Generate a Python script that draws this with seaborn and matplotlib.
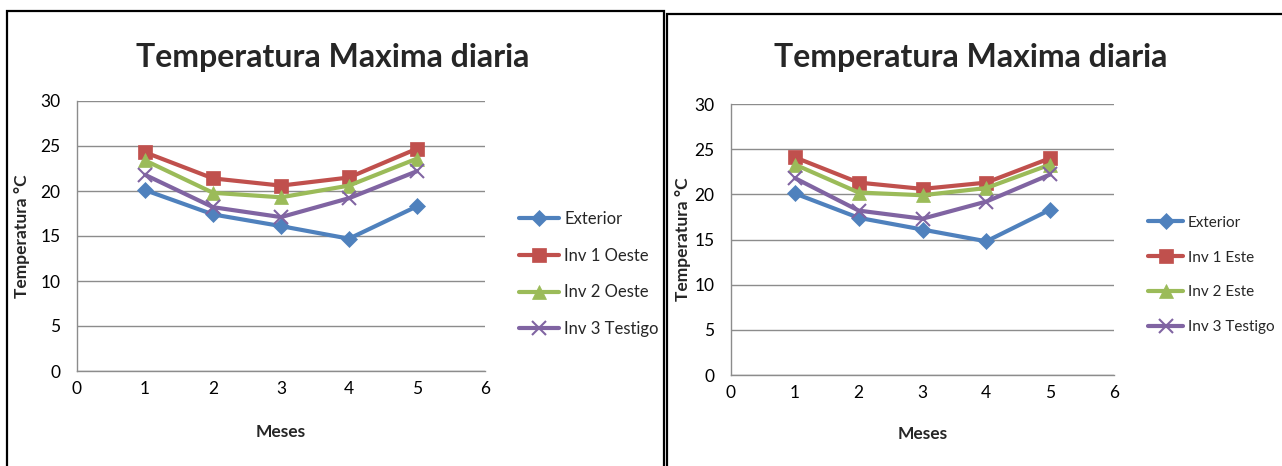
import matplotlib
matplotlib.use("Agg")
import matplotlib.pyplot as plt
import seaborn as sns
import pandas as pd
from matplotlib.patches import Rectangle
from matplotlib.lines import Line2D

meses = [1, 2, 3, 4, 5]

# Left chart (Oeste)
left_labels = ["Exterior", "Inv 1 Oeste", "Inv 2 Oeste", "Inv 3 Testigo"]
left_exterior = [20.1, 17.4, 16.1, 14.7, 18.3]
left_inv1 = [24.3, 21.4, 20.6, 21.5, 24.7]
left_inv2 = [23.4, 19.8, 19.3, 20.6, 23.6]
left_inv3 = [21.8, 18.2, 17.1, 19.2, 22.2]

# Right chart (Este)
right_labels = ["Exterior", "Inv 1 Este", "Inv 2 Este", "Inv 3 Testigo"]
right_exterior = [20.1, 17.4, 16.1, 14.8, 18.3]
right_inv1 = [24.1, 21.3, 20.6, 21.3, 24.0]
right_inv2 = [23.3, 20.2, 19.9, 20.7, 23.3]
right_inv3 = [21.8, 18.2, 17.3, 19.2, 22.2]

title = "Temperatura Maxima diaria"
xlabel = "Meses"
ylabel = "Temperatura °C"
xticks = [0, 1, 2, 3, 4, 5, 6]
yticks = [0, 5, 10, 15, 20, 25, 30]

colors = ["#4F81BD", "#C0504D", "#9BBB59", "#8064A2"]
markers = ["D", "s", "^", "x"]
msizes = [8, 10, 10, 10]

sns.set_theme(style="white")
plt.rcParams["font.family"] = ["Lato", "DejaVu Sans"]

W, H = 1282, 466
fig = plt.figure(figsize=(W / 100, H / 100), dpi=100)
fig.patch.set_facecolor("white")

# chart frames
fig.patches.append(Rectangle((7 / W, -0.02), (664 - 7) / W, 1.02 - 11 / H,
                             transform=fig.transFigure, fill=False,
                             edgecolor="black", linewidth=1.6, zorder=0))
fig.patches.append(Rectangle((667 / W, -0.02), 1.0, 1.02 - 14 / H,
                             transform=fig.transFigure, fill=False,
                             edgecolor="black", linewidth=1.6, zorder=0))


def make_chart(rect, series, labels, title_xy, ylab_x, xlab_y, leg_xy,
               leg_fs, leg_hl):
    ax = fig.add_axes(rect)
    for vals, lab, c, m, ms in zip(series, labels, colors, markers, msizes):
        df = pd.DataFrame({"Meses": meses, "T": vals})
        sns.lineplot(data=df, x="Meses", y="T", ax=ax, color=c, linewidth=3,
                     marker=m, markersize=ms, markeredgewidth=1.5 if m == "x" else 0.5,
                     markeredgecolor=c, label=lab, legend=False)
    ax.set_xlim(0, 6)
    ax.set_ylim(0, 30)
    ax.set_xticks(xticks)
    ax.set_yticks(yticks)
    ax.tick_params(axis="both", length=0, labelsize=12.5, colors="black")
    ax.tick_params(axis="y", pad=12)
    ax.tick_params(axis="x", pad=7)
    ax.grid(axis="y", color="#8c8c8c", linewidth=1)
    ax.set_axisbelow(True)
    for s in ["top", "right"]:
        ax.spines[s].set_visible(False)
    for s in ["left", "bottom"]:
        ax.spines[s].set_color("#8c8c8c")
        ax.spines[s].set_linewidth(1)
    ax.set_xlabel(xlabel, fontsize=12.5, fontweight="bold")
    ax.set_ylabel(ylabel, fontsize=12.5, fontweight="bold", va="center")
    ax.xaxis.set_label_coords(0.5, xlab_y)
    ax.yaxis.set_label_coords(ylab_x, 0.5)
    fig.text(title_xy[0], title_xy[1], title, fontsize=23, fontweight="bold",
             ha="center", va="center")
    handles = [Line2D([], [], color=c, linewidth=3, marker=m, markersize=ms,
                      markeredgecolor=c, markeredgewidth=1.5 if m == "x" else 0.5)
               for c, m, ms in zip(colors, markers, msizes)]
    fig.legend(handles, labels, loc="center left", bbox_to_anchor=leg_xy,
               bbox_transform=fig.transFigure, frameon=False, fontsize=leg_fs,
               handlelength=leg_hl, handletextpad=0.3,
               labelspacing=1.25 * 12 / leg_fs,
               borderpad=0, borderaxespad=0)
    return ax


make_chart([77 / W, (H - 371) / H, 408 / W, 270 / H],
           [left_exterior, left_inv1, left_inv2, left_inv3], left_labels,
           (333 / W, 1 - 57 / H), (22 - 77) / 408, (371 - 424) / 270,
           (519 / W, 1 - 274 / H), 12, 2.4)
make_chart([731 / W, (H - 375) / H, 383 / W, 271 / H],
           [right_exterior, right_inv1, right_inv2, right_inv3], right_labels,
           (971 / W, 1 - 58 / H), (683 - 731) / 383, (375 - 426) / 271,
           (1148 / W, 1 - 275 / H), 11, 2.3)

fig.savefig("out.png", dpi=100)
